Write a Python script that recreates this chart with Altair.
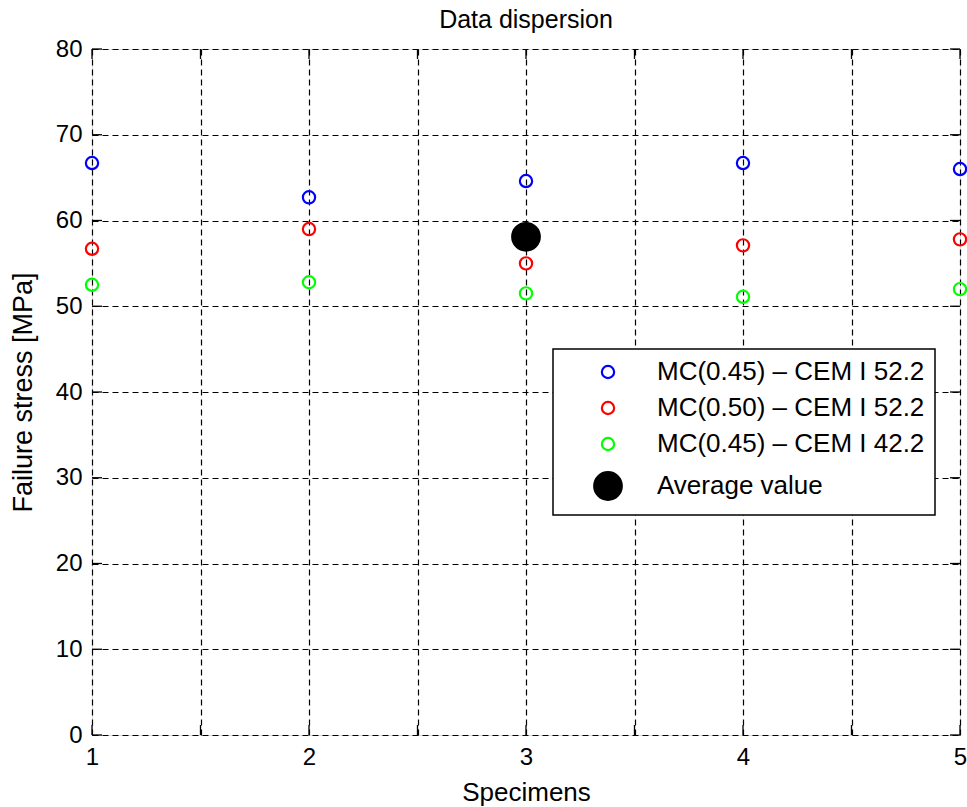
import altair as alt
import pandas as pd

# ---- data ----
specimens = [1, 2, 3, 4, 5]
series_names = ["MC(0.45) – CEM I 52.2", "MC(0.50) – CEM I 52.2",
                "MC(0.45) – CEM I 42.2", "Average value"]
mc045_522 = [66.7, 62.7, 64.6, 66.7, 66.0]
mc050_522 = [56.7, 59.0, 55.0, 57.1, 57.8]
mc045_422 = [52.5, 52.8, 51.5, 51.1, 52.0]
avg_specimen = [3]
avg_value = [58.1]
x_ticks = [1, 1.5, 2, 2.5, 3, 3.5, 4, 4.5, 5]
y_ticks = [0, 10, 20, 30, 40, 50, 60, 70, 80]

# ---- styles ----
colors = ["#0000ff", "#ff0000", "#00ff00", "#000000"]
fills = ["transparent", "transparent", "transparent", "#000000"]
sizes = [150, 150, 150, 760]
FONT = "Liberation Sans"
W, H = 868, 686

rows = []
for name, vals in zip(series_names[:3], [mc045_522, mc050_522, mc045_422]):
    for s, v in zip(specimens, vals):
        rows.append({"specimen": s, "stress": v, "series": name})
for s, v in zip(avg_specimen, avg_value):
    rows.append({"specimen": s, "stress": v, "series": series_names[3]})
df = pd.DataFrame(rows)

xscale = alt.Scale(domain=[1, 5], nice=False, zero=False)
yscale = alt.Scale(domain=[0, 80], nice=False)

xaxis = alt.Axis(values=x_ticks,
                 labelExpr="datum.value % 1 == 0 ? format(datum.value, 'd') : ''",
                 title="Specimens", grid=True, ticks=False, domain=False,
                 labelFlush=False, labelOverlap=False, labelPadding=10,
                 labelFontSize=24, titleFontSize=26, titlePadding=10)
yaxis = alt.Axis(values=y_ticks, title="Failure stress [MPa]", grid=True, ticks=False,
                 domain=False, labelFlush=False, labelOverlap=False, labelPadding=10,
                 labelFontSize=24, titleFontSize=27, titlePadding=18)

points = alt.Chart(df).mark_point(shape="circle", strokeWidth=2.2, opacity=1).encode(
    x=alt.X("specimen:Q", scale=xscale, axis=xaxis),
    y=alt.Y("stress:Q", scale=yscale, axis=yaxis),
    color=alt.Color("series:N", scale=alt.Scale(domain=series_names, range=colors), title=None),
    fill=alt.Fill("series:N", scale=alt.Scale(domain=series_names, range=fills), title=None),
    size=alt.Size("series:N", scale=alt.Scale(type="ordinal", domain=series_names, range=sizes),
                  title=None),
)

xt = pd.DataFrame({"t": x_ticks})
yt = pd.DataFrame({"t": y_ticks})
tick_bottom = alt.Chart(xt).mark_rule(color="black", strokeWidth=1.3).encode(
    x=alt.X("t:Q", scale=xscale), y=alt.value(H), y2=alt.value(H - 10))
tick_top = alt.Chart(xt).mark_rule(color="black", strokeWidth=1.3).encode(
    x=alt.X("t:Q", scale=xscale), y=alt.value(0), y2=alt.value(10))
tick_left = alt.Chart(yt).mark_rule(color="black", strokeWidth=1.3).encode(
    y=alt.Y("t:Q", scale=yscale), x=alt.value(0), x2=alt.value(10))
tick_right = alt.Chart(yt).mark_rule(color="black", strokeWidth=1.3).encode(
    y=alt.Y("t:Q", scale=yscale), x=alt.value(W), x2=alt.value(W - 10))

chart = alt.layer(tick_bottom, tick_top, tick_left, tick_right, points).properties(
    width=W, height=H,
    title=alt.TitleParams("Data dispersion", fontSize=25, font=FONT, fontWeight="normal",
                          color="black", offset=4, anchor="middle"),
    autosize=alt.AutoSizeParams(type="none"),
    padding={"left": 92, "top": 49, "right": 7, "bottom": 72},
).configure_view(
    stroke="#222222", strokeWidth=1.6, fill="white"
).configure(
    background="white"
).configure_axis(
    labelFont=FONT, titleFont=FONT, labelColor="black", titleColor="black",
    titleFontWeight="normal", gridColor="black", gridDash=[6, 4], gridWidth=1.2,
    gridOpacity=1
).configure_legend(
    orient="none", legendX=461, legendY=300,
    fillColor="white", strokeColor="black", strokeWidth=1.5, cornerRadius=0,
    padding=10, symbolOffset=30, labelOffset=34, rowPadding=10,
    labelFont=FONT, labelFontSize=26, labelColor="black", labelLimit=400,
    symbolStrokeWidth=2.2
)

chart.save("out.html", embed_options={"renderer": "svg", "actions": False})
